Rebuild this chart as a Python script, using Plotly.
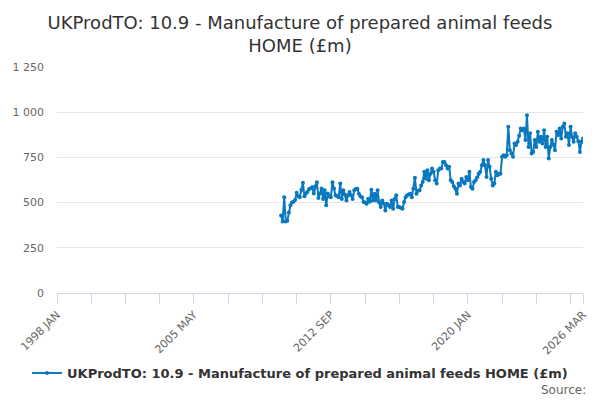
import plotly.graph_objects as go

MONTHS = ['JAN', 'FEB', 'MAR', 'APR', 'MAY', 'JUN',
          'JUL', 'AUG', 'SEP', 'OCT', 'NOV', 'DEC']

# categories: 1998 JAN .. 2026 MAR
categories = ['%d %s' % (y, m) for y in range(1998, 2027) for m in MONTHS][:339]

# series starts at 2010 JAN (earlier months have no data)
first_month = '2010 JAN'
values = [
    428, 395, 530, 395, 400, 445, 485, 500, 505, 515, 555, 535,   # 2010
    530, 570, 610, 535, 550, 560, 575, 580, 585, 550, 590, 612,   # 2011
    525, 550, 578, 520, 568, 485, 550, 535, 530, 612, 578, 540,   # 2012
    535, 530, 605, 520, 568, 545, 512, 540, 558, 540, 520, 568,   # 2013
    575, 577, 549, 535, 530, 503, 500, 493, 521, 505, 571, 512,   # 2014
    549, 512, 568, 500, 475, 512, 495, 456, 493, 485, 475, 512,   # 2015
    466, 521, 540, 475, 475, 470, 466, 503, 530, 540, 545, 549,   # 2016
    530, 577, 638, 549, 565, 568, 595, 614, 670, 632, 679, 623,   # 2017
    660, 688, 670, 623, 605, 679, 688, 688, 725, 725, 707, 688,   # 2018
    698, 623, 614, 590, 577, 549, 605, 595, 632, 614, 605, 642,   # 2019
    623, 670, 586, 577, 614, 623, 640, 660, 670, 707, 735, 707,   # 2020
    642, 735, 698, 632, 595, 605, 670, 651, 660, 660, 753, 762,   # 2021
    753, 762, 920, 790, 771, 753, 827, 818, 836, 870, 910, 900,   # 2022
    910, 846, 983, 808, 883, 771, 780, 846, 808, 892, 836, 864,   # 2023
    827, 900, 808, 864, 744, 808, 846, 820, 790, 892, 873, 910,   # 2024
    855, 920, 938, 864, 883, 818, 920, 864, 836, 883, 864, 840,   # 2025
    780, 836, 855,                                                # 2026
]

series_name = 'UKProdTO: 10.9 - Manufacture of prepared animal feeds HOME (£m)'
title_text = 'UKProdTO: 10.9 - Manufacture of prepared animal feeds<br>HOME (£m)'

y_ticks = [0, 250, 500, 750, 1000, 1250]

start = categories.index(first_month)
y = [None] * start + values

# tick marks every 22 months, labels every 88, plus the last month
tick_vals, tick_text = [], []
for i in range(0, len(categories), 22):
    tick_vals.append(categories[i])
    tick_text.append(categories[i] if i % 88 == 0 else '')
tick_vals.append(categories[-1])
tick_text.append(categories[-1])

line_color = '#0a78be'

fig = go.Figure(go.Scatter(
    x=categories,
    y=y,
    name='<b>' + series_name + '</b>',
    mode='lines+markers',
    line=dict(color=line_color, width=2),
    marker=dict(color=line_color, size=4),
    connectgaps=False,
    showlegend=True,
))

fig.update_layout(
    width=600,
    height=400,
    margin=dict(l=57, r=17, t=67, b=107),
    paper_bgcolor='white',
    plot_bgcolor='white',
    font=dict(family='DejaVu Sans', color='#666666', size=11),
    separators='. ',
    title=dict(
        text=title_text,
        x=0.5,
        xanchor='center',
        y=1 - 29 / 400,
        yanchor='middle',
        font=dict(size=18, color='#333333'),
    ),
    legend=dict(
        orientation='h',
        xref='container',
        x=0.5,
        xanchor='center',
        yref='container',
        y=1 - 373 / 400,
        yanchor='middle',
        font=dict(size=13, color='#333333'),
    ),
    xaxis=dict(
        type='category',
        categoryorder='array',
        categoryarray=categories,
        range=[0, len(categories) - 1],
        tickmode='array',
        tickvals=tick_vals,
        ticktext=tick_text,
        tickangle=-45,
        ticks='outside',
        ticklen=10,
        tickcolor='#ccd6eb',
        showline=True,
        linecolor='#ccd6eb',
        linewidth=1,
        showgrid=False,
        zeroline=False,
        automargin=False,
        tickfont=dict(size=11, color='#666666'),
    ),
    yaxis=dict(
        range=[0, 1250],
        tickmode='array',
        tickvals=y_ticks,
        tickformat=',d',
        showgrid=True,
        gridcolor='#e6e6e6',
        zeroline=False,
        showline=False,
        automargin=False,
        ticklabelstandoff=12,
        tickfont=dict(size=11, color='#666666'),
    ),
    annotations=[dict(
        text='Source:',
        xref='paper', yref='paper',
        x=1 + 5 / 526, y=-(390 - 293) / 226,
        xanchor='right', yanchor='middle',
        showarrow=False,
        font=dict(size=12, color='#666666'),
    )],
)

# drop the default page margin so the 600x400 figure fills the window
fig.write_html('out.html', config={'displayModeBar': False},
               post_script="document.body.style.margin='0';")
